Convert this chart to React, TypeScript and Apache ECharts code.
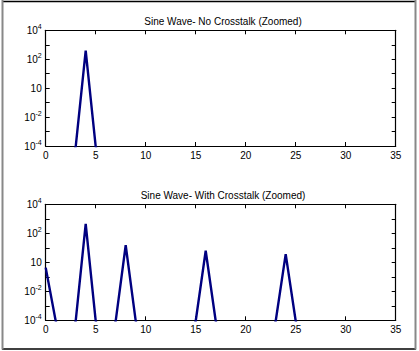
import React, { useEffect, useRef } from "react";
import * as echarts from "echarts";

// FFT bins 0..35
const bins: number[] = [
  0, 1, 2, 3, 4, 5, 6, 7, 8, 9, 10, 11, 12, 13, 14, 15, 16, 17,
  18, 19, 20, 21, 22, 23, 24, 25, 26, 27, 28, 29, 30, 31, 32, 33, 34, 35,
];
// Magnitudes (values at 1e-6 lie below the zoomed floor of 1e-4)
const noCrosstalk: number[] = [
  1e-6, 1e-6, 1e-6, 9e-5, 390, 9e-5, 1e-6, 1e-6, 1e-6, 1e-6, 1e-6, 1e-6,
  1e-6, 1e-6, 1e-6, 1e-6, 1e-6, 1e-6, 1e-6, 1e-6, 1e-6, 1e-6, 1e-6, 1e-6,
  1e-6, 1e-6, 1e-6, 1e-6, 1e-6, 1e-6, 1e-6, 1e-6, 1e-6, 1e-6, 1e-6, 1e-6,
];
const withCrosstalk: number[] = [
  0.43, 9e-5, 1e-6, 9e-5, 440, 9e-5, 1e-6, 9e-5, 15, 9e-5, 1e-6, 1e-6,
  1e-6, 1e-6, 1e-6, 9e-5, 6.3, 9e-5, 1e-6, 1e-6, 1e-6, 1e-6, 1e-6, 9e-5,
  3.7, 9e-5, 1e-6, 1e-6, 1e-6, 1e-6, 1e-6, 1e-6, 1e-6, 1e-6, 1e-6, 1e-6,
];
const titles: string[] = [
  "Sine Wave- No Crosstalk (Zoomed)",
  "Sine Wave- With Crosstalk (Zoomed)",
];
const xMin = 0;
const xMax = 35;
const xStep = 5;
const yMin = 1e-4;
const yMax = 1e4;

const FONT = "'Liberation Sans', Arial, Helvetica, sans-serif";

export default function App() {
  const ref = useRef<HTMLDivElement>(null);
  useEffect(() => {
    if (!ref.current) return;
    const chart = echarts.init(ref.current, undefined, { renderer: "svg" });

    const grids = [
      { left: 45.7, top: 30.3, width: 350, height: 115.7 },
      { left: 45.7, top: 204.3, width: 350, height: 116 },
    ];

    const tick = { show: true, inside: true, length: 4, lineStyle: { color: "#000", width: 1 } };
    const line = { show: true, onZero: false, lineStyle: { color: "#000", width: 1.2 } };

    const xAxes: any[] = [];
    const yAxes: any[] = [];
    grids.forEach((_, gi) => {
      xAxes.push({
        type: "value", gridIndex: gi, position: "bottom", min: xMin, max: xMax, interval: xStep,
        axisLine: line, axisTick: tick, splitLine: { show: false },
        axisLabel: { show: true, margin: 4, color: "#000", fontSize: 10, fontFamily: FONT },
      });
      xAxes.push({
        type: "value", gridIndex: gi, position: "top", min: xMin, max: xMax, interval: xStep,
        axisLine: line, axisTick: tick, splitLine: { show: false }, axisLabel: { show: false },
      });
      const yBase = {
        type: "log", logBase: 10, gridIndex: gi, min: yMin, max: yMax, splitNumber: 8,
        axisLine: line, axisTick: tick, splitLine: { show: false },
      };
      yAxes.push({
        ...yBase, position: "left",
        axisLabel: {
          show: true, margin: 4, color: "#000",
          formatter: (v: number) => {
            const e = Math.round(Math.log10(v));
            if (e % 2 !== 0) return "";
            if (e === 0) return "{b|10}";
            return "{b|10}{s|" + e + "}";
          },
          rich: {
            b: { fontSize: 10, fontFamily: FONT, color: "#000" },
            s: { fontSize: 7, fontFamily: FONT, color: "#000", padding: [0, 0, 7, 0] },
          },
        },
      });
      yAxes.push({ ...yBase, position: "right", axisLabel: { show: false } });
    });

    const mk = (vals: number[]) => bins.map((b, i) => [b, vals[i]]);

    chart.setOption({
      animation: false,
      backgroundColor: "#fff",
      grid: grids,
      xAxis: xAxes,
      yAxis: yAxes,
      series: [
        {
          type: "line", xAxisIndex: 0, yAxisIndex: 0, data: mk(noCrosstalk), showSymbol: false,
          symbol: "none", clip: true, lineStyle: { color: "#000080", width: 2.4 },
        },
        {
          type: "line", xAxisIndex: 2, yAxisIndex: 2, data: mk(withCrosstalk), showSymbol: false,
          symbol: "none", clip: true, lineStyle: { color: "#000080", width: 2.4 },
        },
      ],
      graphic: [
        {
          type: "text", x: 223, y: 21.5,
          style: { text: titles[0], font: "10px " + FONT, fill: "#000", align: "center", verticalAlign: "middle" },
        },
        {
          type: "text", x: 223, y: 195,
          style: { text: titles[1], font: "10px " + FONT, fill: "#000", align: "center", verticalAlign: "middle" },
        },
        { type: "line", shape: { x1: 2, y1: 1.5, x2: 416, y2: 1.5 }, style: { stroke: "#000", lineWidth: 1.5 } },
        { type: "line", shape: { x1: 2, y1: 349, x2: 416, y2: 349 }, style: { stroke: "#000", lineWidth: 1.5 } },
        { type: "line", shape: { x1: 2.5, y1: 0, x2: 2.5, y2: 349.5 }, style: { stroke: "#888", lineWidth: 2 } },
        { type: "line", shape: { x1: 415.5, y1: 0, x2: 415.5, y2: 349.5 }, style: { stroke: "#888", lineWidth: 2 } },
      ],
    });
    return () => chart.dispose();
  }, []);
  return (
    <div
      ref={ref}
      style={{ position: "fixed", left: 0, top: 0, width: 419, height: 351 }}
    />
  );
}
